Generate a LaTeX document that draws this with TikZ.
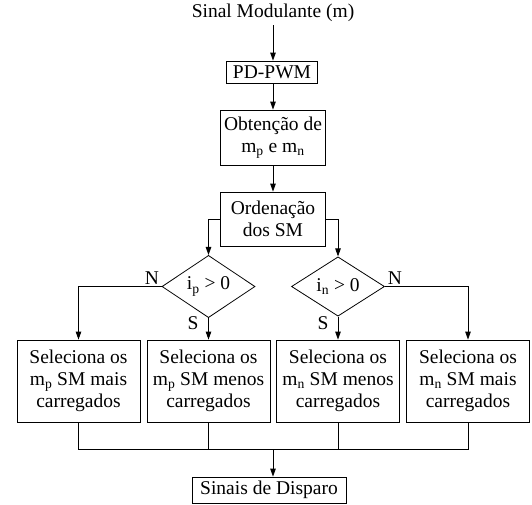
\documentclass[tikz,border=0pt]{standalone}
\usepackage{fontspec}
\setmainfont{Liberation Serif}
\usetikzlibrary{shapes.geometric,arrows.meta}
\begin{document}
\begin{tikzpicture}[x=1pt,y=-1pt,
  font=\fontsize{19.5}{22}\selectfont,
  box/.style={draw,line width=0.8pt,inner sep=0pt,align=center},
  selbox/.style={box,minimum width=123pt,minimum height=82pt},
  dec/.style={draw,diamond,line width=0.8pt,inner sep=0pt,minimum width=93pt,minimum height=53pt},
  line/.style={line width=0.8pt},
  arr/.style={line,-{Triangle[length=8pt,width=5.5pt]}},
  lbl/.style={inner sep=0pt}]
\useasboundingbox (0,0) rectangle (532,504);
\node (title) at (273,13) {Sinal Modulante (m)};
\node[box,minimum width=91pt,minimum height=22pt] (pd) at (272,72) {PD-PWM};
\node[box,minimum width=105pt,minimum height=55pt] (obt) at (273,137.5) {Obtenção de\\m\textsubscript{p} e m\textsubscript{n}};
\node[box,minimum width=105pt,minimum height=54pt] (ord) at (273,219) {Ordenação\\dos SM};
\node[dec] (d1) at (208.5,286.5) {i\textsubscript{p} > 0};
\node[dec] (d2) at (338,286.5) {i\textsubscript{n} > 0};
\node[selbox] (b1) at (78.5,381) {Seleciona os\\m\textsubscript{p} SM mais\\carregados};
\node[selbox] (b2) at (208.5,381) {Seleciona os\\m\textsubscript{p} SM menos\\carregados};
\node[selbox] (b3) at (338,381) {Seleciona os\\m\textsubscript{n} SM menos\\carregados};
\node[selbox] (b4) at (468,381) {Seleciona os\\m\textsubscript{n} SM mais\\carregados};
\node[box,minimum width=154pt,minimum height=26pt] (sd) at (269,490) {Sinais de Disparo};
\node[lbl] (n1) at (152,278) {N};
\node[lbl] (s1) at (193,323) {S};
\node[lbl] (n2) at (395,278) {N};
\node[lbl] (s2) at (323,323) {S};
\coordinate (j) at (273,449);
\draw[arr] (title) -- (title |- pd.north);
\draw[arr] (pd.south -| obt) -- (obt.north);
\draw[arr] (obt) -- (ord.north);
\draw[arr] (ord.west) -- (ord.west -| d1.north) -- (d1.north);
\draw[arr] (ord.east) -- (ord.east -| d2.north) -- (d2.north);
\draw[arr] (d1.west) -| (b1.north);
\draw[arr] (d1.south) -- (b2.north);
\draw[arr] (d2.south) -- (b3.north);
\draw[arr] (d2.east) -| (b4.north);
\draw[line] (b1.south) -- (b1.south |- j) -- (b4.south |- j) -- (b4.south);
\draw[line] (b2.south) -- (b2.south |- j);
\draw[line] (b3.south) -- (b3.south |- j);
\draw[arr] (j) -- (j |- sd.north);
\end{tikzpicture}
\end{document}
